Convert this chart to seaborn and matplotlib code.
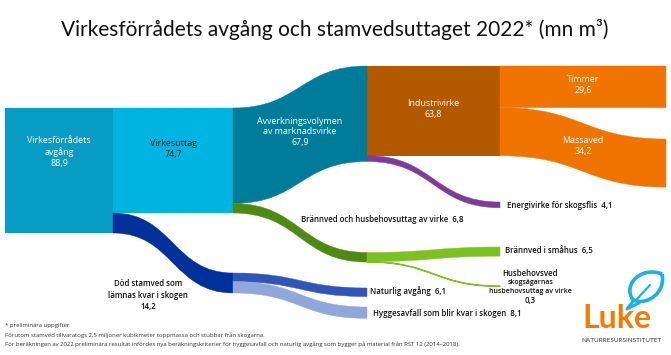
import pandas as pd
import seaborn as sns
import matplotlib.pyplot as plt
from matplotlib.path import Path
from matplotlib.patches import PathPatch, Rectangle

# Values, million m3 (2022, preliminary)
avgang_total = 88.9
virkesuttag = 74.7
dod_stamved = 14.2
avverkning = 67.9
brannved_total = 6.8
industrivirke = 63.8
energivirke = 4.1
timmer = 29.6
massaved = 34.2
brannved_smahus = 6.5
husbehovsved = 0.3
naturlig_avgang = 6.1
hyggesavfall = 8.1

title = "Virkesförrådets avgång och stamvedsuttaget 2022* (mn m³)"
footnotes = [
    "* preliminära uppgifter",
    "Förutom stamved tillvaratogs 2,5 miljoner kubikmeter toppmassa och stubbar från skogarna.",
    "För beräkningen av 2022 preliminära resultat infördes nya beräkningskriterier för hyggesavfall "
    "och naturlig avgång som bygger på material från RST 12 (2014–2018).",
]

sns.set_theme(style="white")
plt.rcParams['font.family'] = ['Open Sans', 'DejaVu Sans']

# layout: pixels per unit and the column edges
px = 1.406
col_x = [5, 113, 233, 367, 500, 666]
top = 108      # top of the first column
top_ind = 66   # top of industrivirke column


def fmt(v):
    return f"{v:.1f}".replace(".", ",")


fig = plt.figure(figsize=(6.71, 3.55), dpi=100)
ax = fig.add_axes([0, 0, 1, 1])
ax.set_xlim(0, 671)
ax.set_ylim(355, 0)
ax.axis("off")


def band(x0, x1, y0, y1, value, color, lw=0.3):
    h = value * px
    xm = (x0 + x1) / 2
    verts = [(x0, y0), (xm, y0), (xm, y1), (x1, y1),
             (x1, y1 + h), (xm, y1 + h), (xm, y0 + h), (x0, y0 + h), (x0, y0)]
    codes = [Path.MOVETO, Path.CURVE4, Path.CURVE4, Path.CURVE4,
             Path.LINETO, Path.CURVE4, Path.CURVE4, Path.CURVE4, Path.CLOSEPOLY]
    ax.add_patch(PathPatch(Path(verts, codes), fc=color, ec=color, lw=lw))


# nodes (rectangles)
ax.add_patch(Rectangle((col_x[0], top), col_x[1] - col_x[0], avgang_total * px,
                       fc="#069cc4", ec="none"))
ax.add_patch(Rectangle((col_x[1], top), col_x[2] - col_x[1], virkesuttag * px,
                       fc="#00b4e1", ec="none"))
ax.add_patch(Rectangle((col_x[3], top_ind), col_x[4] - col_x[3], industrivirke * px,
                       fc="#b35a00", ec="none"))

# flows
flows = pd.DataFrame({
    "name": ["dod", "avverkning", "brannved", "naturlig", "hygges",
             "energi", "smahus", "husbehov", "timmer", "massaved"],
    "value": [dod_stamved, avverkning, brannved_total, naturlig_avgang, hyggesavfall,
              energivirke, brannved_smahus, husbehovsved, timmer, massaved],
    "col": [1, 2, 2, 2, 2, 3, 3, 3, 4, 4],
    "color": ["#00309a", "#007c9b", "#4e8a12", "#2f56b6", "#8fa7da",
              "#7d3c98", "#7dc121", "#7dc121", "#f27400", "#f27400"],
})
# where each flow starts and ends (top edge, pixels)
y_start = {
    "dod": top + virkesuttag * px,
    "avverkning": top,
    "brannved": top + avverkning * px,
    "naturlig": 273,
    "hygges": 273 + naturlig_avgang * px,
    "energi": top_ind + industrivirke * px,
    "smahus": 252.5,
    "husbehov": 252.5 + brannved_smahus * px,
    "timmer": top_ind,
    "massaved": top_ind + timmer * px,
}
y_end = {
    "dod": 273, "avverkning": top_ind, "brannved": 252.5, "naturlig": 288,
    "hygges": 307, "energi": 202, "smahus": 247, "husbehov": 286,
    "timmer": top_ind, "massaved": 139,
}
for _, f in flows.iterrows():
    lw = 0.9 if f["name"] == "husbehov" else 0.3
    band(col_x[f["col"]], col_x[f["col"] + 1], y_start[f["name"]], y_end[f["name"]],
         f["value"], f["color"], lw=lw)

# texts inside nodes
inner = dict(fontsize=6.4, ha="center", va="center", linespacing=1.25)
ax.text(59, 152, f"Virkesförrådets\navgång\n{fmt(avgang_total)}", color="white", **inner)
ax.text(173, 149, f"Virkesuttag\n{fmt(virkesuttag)}", color="#1a1a1a", **inner)
ax.text(300, 132, f"Avverkningsvolymen\nav marknadsvirke\n{fmt(avverkning)}",
        color="white", **inner)
ax.text(433, 109, f"Industrivirke\n{fmt(industrivirke)}", color="white", **inner)
ax.text(583, 85, f"Timmer\n{fmt(timmer)}", color="white", **inner)
ax.text(583, 146, f"Massaved\n{fmt(massaved)}", color="white", **inner)

# labels next to flows
lab = dict(fontsize=5.7, fontweight="semibold", color="#111111", va="center")
ax.text(507, 206, f"Energivirke för skogsflis  {fmt(energivirke)}", **lab)
ax.text(301, 219, f"Brännved och husbehovsuttag av virke  {fmt(brannved_total)}", **lab)
ax.text(505, 251, f"Brännved i småhus  {fmt(brannved_smahus)}", **lab)
ax.text(370, 291, f"Naturlig avgång  {fmt(naturlig_avgang)}", **lab)
ax.text(373, 313, f"Hyggesavfall som blir kvar i skogen  {fmt(hyggesavfall)}", **lab)
ax.text(148, 295, f"Död stamved som\nlämnas kvar i skogen\n{fmt(dod_stamved)}",
        ha="center", linespacing=1.3, **lab)
ax.text(530, 274, "Husbehovsved", ha="center", **lab)
ax.text(530, 287, "skogsägarnas\nhusbehovsuttag av virke", ha="center", fontsize=5.0,
        fontweight="semibold", color="#111111", va="center", linespacing=1.3)
ax.text(530, 300, fmt(husbehovsved), ha="center", **lab)

# title
ax.text(335, 30, title, fontsize=15, ha="center", va="center", color="#111111",
        family=["Lato", "DejaVu Sans"])

# footnotes
for i, line in enumerate(footnotes):
    ax.text(5, 326 + i * 9, line, fontsize=4.3, color="#333333", va="center")

# Luke logo
leaf = Path([(662, 274), (642, 266), (622, 284), (633, 300),
             (648, 306), (666, 292), (662, 274)],
            [Path.MOVETO, Path.CURVE4, Path.CURVE4, Path.CURVE4,
             Path.CURVE4, Path.CURVE4, Path.CURVE4])
ax.add_patch(PathPatch(leaf, fc="none", ec="#1bb1e3", lw=2.6))
ax.plot([634, 627, 639], [300, 309, 303], color="#1bb1e3", lw=2.2, solid_joinstyle="round")
ax.plot([650, 636], [285, 300], color="#1bb1e3", lw=1.6)
ax.text(617, 318, "Luke", fontsize=23, fontweight="bold", color="#f47b00",
        ha="center", va="center", family=["Lato", "DejaVu Sans"])
ax.text(621, 341, "NATURRESURSINSTITUTET", fontsize=4.6, color="#333333",
        ha="center", va="center", family=["Lato", "DejaVu Sans"])

fig.savefig("out.png", dpi=100)
